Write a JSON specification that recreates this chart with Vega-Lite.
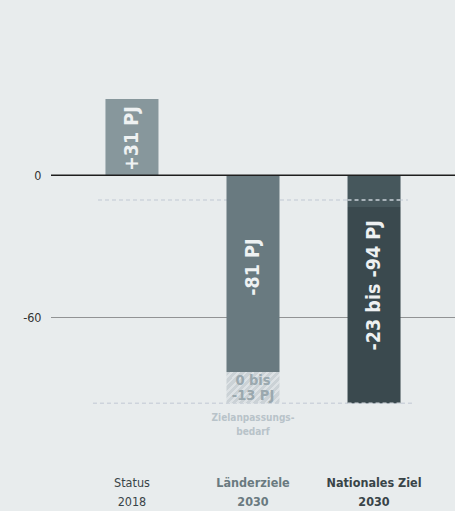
{
  "$schema": "https://vega.github.io/schema/vega-lite/v6.json",
  "width": 404,
  "height": 450,
  "autosize": {"type": "none"},
  "padding": {"left": 51, "top": 0, "right": 0, "bottom": 61},
  "background": "#e8eced",
  "config": {"view": {"stroke": null}, "font": "'DejaVu Sans Condensed', Roboto, sans-serif", "text": {"font": "'DejaVu Sans Condensed', Roboto, sans-serif"}},
  "datasets": {
    "one": [{}],
    "bars": [
      {"cat": "Status 2018", "seg": "status", "start": 0, "end": 32.2},
      {"cat": "Länderziele 2030", "seg": "laender", "start": 0, "end": -83.1},
      {"cat": "Nationales Ziel 2030", "seg": "nat_oben", "start": 0, "end": -13.4},
      {"cat": "Nationales Ziel 2030", "seg": "nat_unten", "start": -13.4, "end": -96.3}
    ],
    "hatch": [
      {"cat": "Länderziele 2030", "start": -83.1, "end": -96.3}
    ],
    "barLabels": [
      {"cat": "Status 2018", "label": "+31 PJ", "mid": 15.5},
      {"cat": "Länderziele 2030", "label": "-81 PJ", "mid": -38.8},
      {"cat": "Nationales Ziel 2030", "label": "-23 bis -94 PJ", "mid": -46.5}
    ],
    "hatchLabel": [
      {"cat": "Länderziele 2030", "label": "0 bis\n-13 PJ", "mid": -86.9}
    ],
    "noteLabel": [
      {"cat": "Länderziele 2030", "label": "Zielanpassungs-\nbedarf", "mid": -102.5}
    ]
  },
  "layer": [
    {
      "data": {"name": "one"},
      "mark": {"type": "rule", "color": "#cdd3dc", "strokeWidth": 1.5, "strokeDash": [4, 3], "xOffset": -34, "x2Offset": 34},
      "encoding": {
        "x": {"datum": "Status 2018"},
        "x2": {"datum": "Nationales Ziel 2030"},
        "y": {"datum": -10.4}
      }
    },
    {
      "data": {"name": "one"},
      "mark": {"type": "rule", "color": "#cdd3dc", "strokeWidth": 1.5, "strokeDash": [4, 3], "xOffset": -39, "x2Offset": 38},
      "encoding": {
        "x": {"datum": "Status 2018"},
        "x2": {"datum": "Nationales Ziel 2030"},
        "y": {"datum": -96.3}
      }
    },
    {
      "data": {"name": "bars"},
      "mark": {"type": "bar"},
      "encoding": {
        "x": {
          "field": "cat", "type": "nominal",
          "scale": {"domain": ["Status 2018", "Länderziele 2030", "Nationales Ziel 2030"], "paddingInner": 0.562, "paddingOuter": 0.45},
          "axis": {
            "title": null, "domain": false, "ticks": false, "labelAngle": 0, "labelAlign": "center",
            "labelPadding": 32, "labelFontSize": 12.5, "labelLineHeight": 19,
            "labelExpr": "[slice(datum.value, 0, lastindexof(datum.value, ' ')), slice(datum.value, lastindexof(datum.value, ' ') + 1)]",
            "labelFontWeight": {"condition": {"test": "indexof(datum.value, 'Status') == 0", "value": "normal"}, "value": "bold"},
            "labelColor": {"condition": {"test": "indexof(datum.value, 'Länder') == 0", "value": "#6a7a80"}, "value": "#394448"}
          }
        },
        "y": {
          "field": "start", "type": "quantitative",
          "scale": {"domain": [-116, 74], "nice": false, "zero": false},
          "axis": {
            "title": null, "domain": false, "ticks": false, "values": [0, -60],
            "labelExpr": "datum.value == 0 ? '0' : '-60'",
            "labelPadding": 10, "labelFontSize": 12.5, "labelColor": "#333333",
            "grid": true, "gridColor": "#3a3a3a", "gridDash": [1, 1], "gridWidth": 1, "gridOpacity": 1
          }
        },
        "y2": {"field": "end"},
        "color": {
          "field": "seg", "type": "nominal", "legend": null,
          "scale": {"domain": ["status", "laender", "nat_oben", "nat_unten"], "range": ["#87979c", "#697a80", "#46575c", "#3a494e"]}
        }
      }
    },
    {
      "data": {"name": "hatch"},
      "mark": {
        "type": "bar",
        "color": {
          "gradient": "linear", "x1": 0, "y1": 0, "x2": 1.2, "y2": 0.7,
          "stops": [
            {"offset": 0, "color": "#cbd2d6"}, {"offset": 0.05, "color": "#cbd2d6"}, {"offset": 0.05, "color": "#dde2e5"}, {"offset": 0.0833, "color": "#dde2e5"},
            {"offset": 0.0833, "color": "#cbd2d6"}, {"offset": 0.1333, "color": "#cbd2d6"}, {"offset": 0.1333, "color": "#dde2e5"}, {"offset": 0.1667, "color": "#dde2e5"},
            {"offset": 0.1667, "color": "#cbd2d6"}, {"offset": 0.2167, "color": "#cbd2d6"}, {"offset": 0.2167, "color": "#dde2e5"}, {"offset": 0.25, "color": "#dde2e5"},
            {"offset": 0.25, "color": "#cbd2d6"}, {"offset": 0.3, "color": "#cbd2d6"}, {"offset": 0.3, "color": "#dde2e5"}, {"offset": 0.3333, "color": "#dde2e5"},
            {"offset": 0.3333, "color": "#cbd2d6"}, {"offset": 0.3833, "color": "#cbd2d6"}, {"offset": 0.3833, "color": "#dde2e5"}, {"offset": 0.4167, "color": "#dde2e5"},
            {"offset": 0.4167, "color": "#cbd2d6"}, {"offset": 0.4667, "color": "#cbd2d6"}, {"offset": 0.4667, "color": "#dde2e5"}, {"offset": 0.5, "color": "#dde2e5"},
            {"offset": 0.5, "color": "#cbd2d6"}, {"offset": 0.55, "color": "#cbd2d6"}, {"offset": 0.55, "color": "#dde2e5"}, {"offset": 0.5833, "color": "#dde2e5"},
            {"offset": 0.5833, "color": "#cbd2d6"}, {"offset": 0.6333, "color": "#cbd2d6"}, {"offset": 0.6333, "color": "#dde2e5"}, {"offset": 0.6667, "color": "#dde2e5"},
            {"offset": 0.6667, "color": "#cbd2d6"}, {"offset": 0.7167, "color": "#cbd2d6"}, {"offset": 0.7167, "color": "#dde2e5"}, {"offset": 0.75, "color": "#dde2e5"},
            {"offset": 0.75, "color": "#cbd2d6"}, {"offset": 0.8, "color": "#cbd2d6"}, {"offset": 0.8, "color": "#dde2e5"}, {"offset": 0.8333, "color": "#dde2e5"},
            {"offset": 0.8333, "color": "#cbd2d6"}, {"offset": 0.8833, "color": "#cbd2d6"}, {"offset": 0.8833, "color": "#dde2e5"}, {"offset": 0.9167, "color": "#dde2e5"},
            {"offset": 0.9167, "color": "#cbd2d6"}, {"offset": 0.9667, "color": "#cbd2d6"}, {"offset": 0.9667, "color": "#dde2e5"}, {"offset": 1, "color": "#dde2e5"}
          ]
        }
      },
      "encoding": {
        "x": {"field": "cat", "type": "nominal"},
        "y": {"field": "start", "type": "quantitative"},
        "y2": {"field": "end"}
      }
    },
    {
      "data": {"name": "one"},
      "mark": {"type": "rule", "color": "#1e1e1e", "strokeWidth": 1.5},
      "encoding": {"y": {"datum": 0}}
    },
    {
      "data": {"name": "one"},
      "mark": {"type": "rule", "color": "#c9d1d8", "strokeWidth": 1.5, "strokeDash": [4, 3], "xOffset": -26.5, "x2Offset": 26.5},
      "encoding": {
        "x": {"datum": "Nationales Ziel 2030"},
        "x2": {"datum": "Nationales Ziel 2030"},
        "y": {"datum": -10.4}
      }
    },
    {
      "data": {"name": "one"},
      "mark": {"type": "rule", "color": "#d3d9de", "strokeWidth": 1.5, "strokeDash": [4, 3], "xOffset": -26.5, "x2Offset": 26.5},
      "encoding": {
        "x": {"datum": "Nationales Ziel 2030"},
        "x2": {"datum": "Nationales Ziel 2030"},
        "y": {"datum": -96.3}
      }
    },
    {
      "data": {"name": "barLabels"},
      "mark": {"type": "text", "angle": 270, "fontSize": 19.5, "fontWeight": "bold", "color": "#eef1f2", "align": "center", "baseline": "middle"},
      "encoding": {
        "x": {"field": "cat", "type": "nominal"},
        "y": {"field": "mid", "type": "quantitative"},
        "text": {"field": "label"}
      }
    },
    {
      "data": {"name": "hatchLabel"},
      "mark": {"type": "text", "fontSize": 14.5, "fontWeight": "bold", "color": "#9aa8ae", "align": "center", "baseline": "middle", "lineBreak": "\n", "lineHeight": 15},
      "encoding": {
        "x": {"field": "cat", "type": "nominal"},
        "y": {"field": "mid", "type": "quantitative"},
        "text": {"field": "label"}
      }
    },
    {
      "data": {"name": "noteLabel"},
      "mark": {"type": "text", "fontSize": 10, "fontWeight": "bold", "color": "#b8c3c9", "align": "center", "baseline": "middle", "lineBreak": "\n", "lineHeight": 14},
      "encoding": {
        "x": {"field": "cat", "type": "nominal"},
        "y": {"field": "mid", "type": "quantitative"},
        "text": {"field": "label"}
      }
    }
  ]
}
